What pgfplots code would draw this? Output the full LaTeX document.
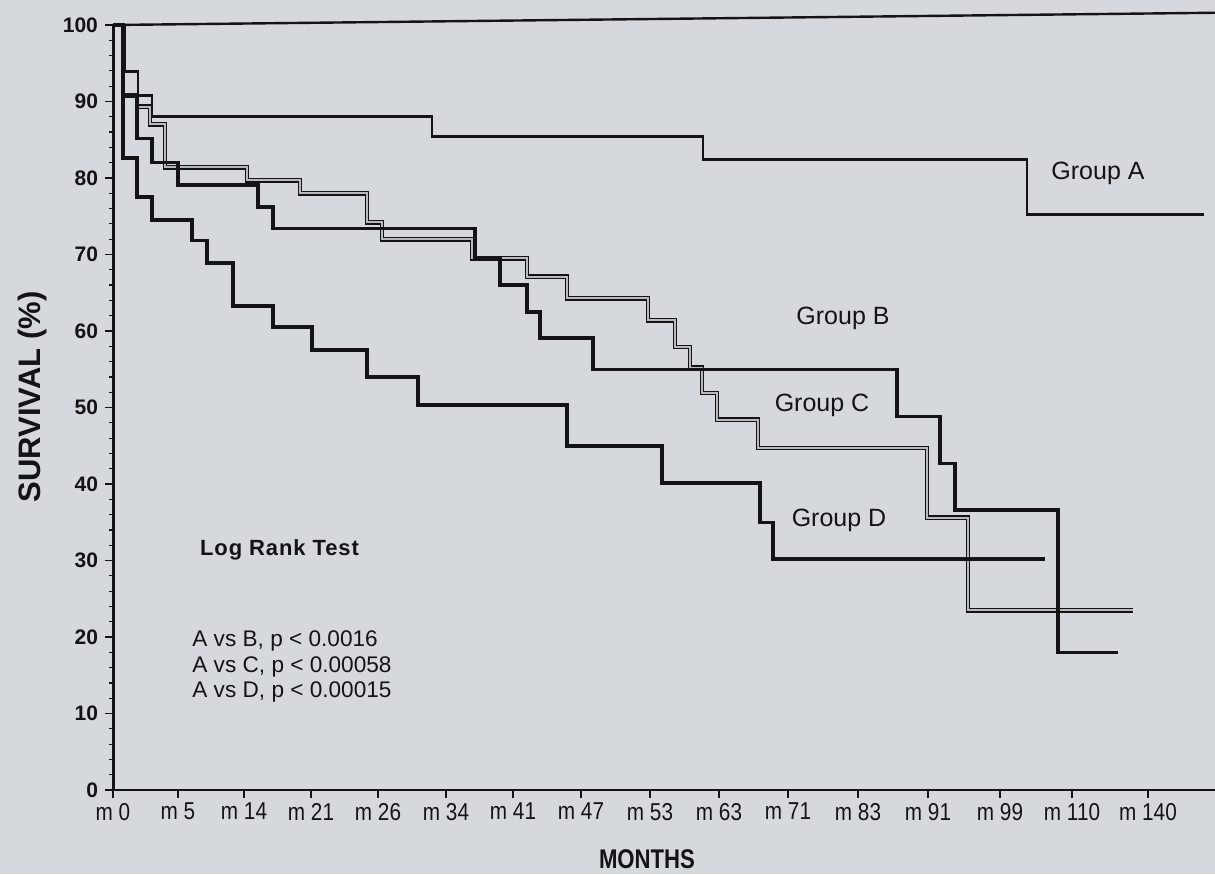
\documentclass[border=0pt]{standalone}
\usepackage{fontspec}
\setmainfont{Liberation Sans}
\newfontfamily\condfont[FakeStretch=0.85]{Liberation Sans}
\newfontfamily\condbf[FakeStretch=0.82]{Liberation Sans Bold}
\usepackage{pgfplots}
\pgfplotsset{compat=1.18}
\definecolor{paper}{RGB}{213,216,221}
\definecolor{ink}{RGB}{20,20,22}
\definecolor{cgray}{RGB}{185,186,190}
\begin{document}
\begin{tikzpicture}[x=1pt,y=1pt]
\useasboundingbox[fill=paper] (-56.5,-42) rectangle (551,395);
\begin{axis}[
  at={(0,0)}, anchor=south west,
  scale only axis, width=551pt, height=382.5pt,
  xmin=113, xmax=1215, ymin=0, ymax=100,
  clip=false,
  axis lines*=left,
  axis line style={-},
  x axis line style={line width=0.9pt, ink},
  y axis line style={line width=1.5pt, ink},
  tick align=outside,
  major tick length=4pt, minor tick length=2pt,
  every tick/.style={ink, line width=0.6pt},
  xtick={113,178,244,311,378,446,513,581,650,719,788,858,928,1000,1072,1148},
  xticklabels={m 0,m 5,m 14,m 21,m 26,m 34,m 41,m 47,m 53,m 63,m 71,m 83,m 91,m 99,m 110,m 140},
  ytick={0,10,...,100},
  minor y tick num=4,
  /pgf/number format/assume math mode=true,
  xticklabel style={font=\condfont\fontsize{12.2}{13}\selectfont, text=ink, yshift=1pt},
  yticklabel style={font=\bfseries\fontsize{10.5}{12}\selectfont, text=ink},
]
% frame top line
\draw[ink, line width=1.2pt] (axis cs:113,100) -- (axis cs:1215,101.6);
% Group A
\addplot[const plot, ink, line width=1.35pt] coordinates {
(113,100) (125,93.9) (138,90.8) (152,88.0) (432,85.4) (703,82.4) (1027,75.2) (1204,75.2)};
% Group C (double grey line)
\addplot[const plot, ink, line width=2.4pt] coordinates {
(113,100) (123,90.8) (137,89.3) (150,87.0) (165,81.4) (247,79.7) (300,78.0) (367,74.2) (382,72.0) (472,69.5) (527,67.1) (567,64.3) (648,61.4) (675,57.9) (690,55.2) (702,51.9) (717,48.4) (758,44.7) (927,35.6) (968,23.5) (1133,23.5)};
\addplot[const plot, cgray, line width=1.0pt] coordinates {
(113,100) (123,90.8) (137,89.3) (150,87.0) (165,81.4) (247,79.7) (300,78.0) (367,74.2) (382,72.0) (472,69.5) (527,67.1) (567,64.3) (648,61.4) (675,57.9) (690,55.2) (702,51.9) (717,48.4) (758,44.7) (927,35.6) (968,23.5) (1133,23.5)};
% Group B
\addplot[const plot, ink, line width=1.7pt] coordinates {
(113,100) (123,90.8) (137,85.2) (152,82.0) (178,79.1) (258,76.2) (273,73.4) (475,69.5) (500,66.0) (527,62.5) (540,59.1) (593,55.0) (897,48.8) (940,42.7) (955,36.6) (1058,18.0) (1118,18.0)};
% Group D
\addplot[const plot, ink, line width=1.75pt] coordinates {
(113,100) (123,82.6) (137,77.5) (152,74.5) (192,71.8) (207,68.9) (233,63.3) (273,60.5) (312,57.5) (367,54.0) (418,50.3) (567,45.0) (662,40.1) (760,35.0) (773,30.2) (1045,30.2)};
\end{axis}
\begin{scope}[every node/.style={text=ink, inner sep=0pt}]
\node[font=\fontsize{12.5}{14}\selectfont] at (492.5,308.5) {Group A};
\node[font=\fontsize{12.5}{14}\selectfont] at (365,236) {Group B};
\node[font=\fontsize{12.5}{14}\selectfont] at (354.5,192.5) {Group C};
\node[font=\fontsize{12.5}{14}\selectfont] at (363,135) {Group D};
\node[font=\bfseries\fontsize{11}{13}\selectfont\addfontfeature{LetterSpace=4}] at (83.25,120) {Log Rank Test};
\node[anchor=west, font=\fontsize{11.3}{13}\selectfont] at (39.5,74.5) {A vs B, p < 0.0016};
\node[anchor=west, font=\fontsize{11.3}{13}\selectfont] at (39.5,61.5) {A vs C, p < 0.00058};
\node[anchor=west, font=\fontsize{11.3}{13}\selectfont] at (39.5,49) {A vs D, p < 0.00015};
\node[font=\condbf\fontsize{13.5}{15}\selectfont] at (267,-34.5) {MONTHS};
\node[font=\bfseries\fontsize{15.5}{17}\selectfont, rotate=90] at (-40.5,196.5) {SURVIVAL (\%)};
\end{scope}
\end{tikzpicture}
\end{document}
